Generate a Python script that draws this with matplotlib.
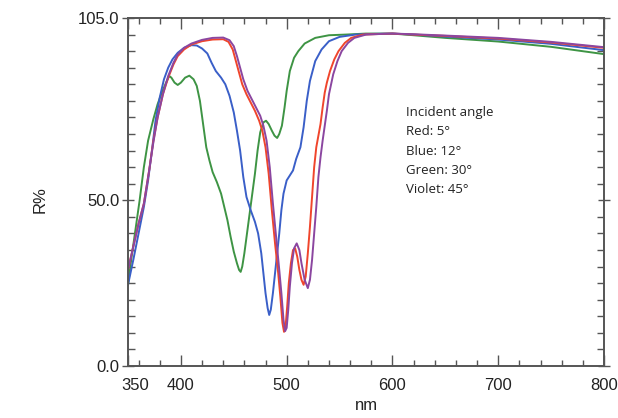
import matplotlib
matplotlib.use('Agg')
import matplotlib.pyplot as plt
import matplotlib.transforms as mtransforms
from matplotlib.ticker import MultipleLocator

# wavelength (nm) / reflectance (%)
red_nm = [350, 355, 360, 365, 370, 374, 378, 383, 388, 393, 397, 403, 410, 420, 430, 440, 445, 449, 452, 455,
          458, 462, 466, 470, 474, 477, 480, 483, 486, 489, 492, 494, 496, 497.5, 499, 500.5, 502, 504, 506, 508,
          510, 512, 514, 516, 518, 520, 522, 524, 526, 528, 530, 532, 534, 536, 538, 541, 545, 549, 555, 561,
          572, 590, 600, 620, 650, 700, 750, 800]
red_r = [29, 36, 43, 49, 59, 68, 75, 82, 87, 91, 93.5, 95.5, 97, 98, 98.5, 98.6, 97.8, 95.5, 92, 88.5,
         85, 82, 79.5, 77, 74, 71, 66, 58, 47, 37, 28, 21, 13, 10.3, 12, 18, 25, 31, 35, 35.5,
         33, 29, 26, 24.5, 27, 34, 42, 51, 60, 66, 69.5, 73, 78, 82.5, 85.5, 89, 92.5, 95, 97.5, 99,
         100, 100.2, 100.3, 100, 99.6, 98.8, 97.6, 96]

violet_nm = [350, 355, 360, 365, 370, 374, 378, 383, 388, 393, 397, 403, 410, 420, 430, 440, 446, 450, 453, 456,
             459, 463, 467, 471, 475, 478, 481, 484, 487, 490, 493, 495, 497, 498.5, 500, 501.5, 503, 505, 507,
             509.5, 512, 514, 517, 520, 522, 524, 526, 528, 530, 532, 534, 536, 538, 540, 542, 544, 548, 552,
             558, 564, 575, 590, 600, 620, 650, 700, 750, 800]
violet_r = [29, 36, 43, 49, 59, 67.5, 75, 82, 87.5, 91.5, 94, 96, 97.3, 98.4, 99, 99.1, 98.3, 96.5, 93.5, 90,
            86.5, 83, 80.5, 78, 75.5, 72.5, 68, 60, 49, 39, 29, 22, 14, 10.5, 11.5, 17, 24, 31, 35.5,
            37, 35, 31, 26, 23.5, 26, 32, 40, 48, 57, 63, 68, 72.5, 77, 82, 85, 88, 92, 95,
            97.5, 99, 100, 100.2, 100.3, 100.1, 99.7, 99, 97.8, 96.2]

blue_nm = [350, 355, 360, 365, 369, 373, 376, 380, 384, 388, 392, 397, 403, 410, 415, 420, 425, 429, 433, 438,
           442, 446, 450, 453, 456, 459, 462, 466, 470, 473, 476, 478, 480, 482, 483.5, 485, 487, 489, 491, 493,
           495, 497, 500, 503, 506, 509, 513, 516, 519, 522, 527, 533, 540, 550, 565, 580, 600, 620,
           650, 700, 750, 800]
blue_r = [24.5, 32, 40, 48, 56, 66, 74, 81, 86.5, 90, 92.5, 94.5, 96, 96.8, 96.7, 95.8, 94.3, 91.5, 89, 87,
          85, 81.5, 76.5, 71, 65, 57, 51, 47, 43.5, 40, 34, 28, 22, 17.5, 15.4, 17, 22, 28, 34, 40,
          47, 52, 56, 57.5, 59, 62.5, 66, 72, 80, 86, 92, 95.5, 98, 99.3, 100, 100.2, 100.3, 100,
          99.4, 98.5, 97.2, 95.3]

green_nm = [350, 353, 357, 361, 365, 369, 374, 378, 382, 386, 389, 391, 394, 397, 400, 404, 408, 412, 415, 418,
            421, 424, 427, 430, 434, 438, 441, 444, 447, 450, 453, 455, 456.5, 458, 460, 462.5, 465, 467.5, 470,
            472.5, 475, 478, 480.5, 483, 486, 488.5, 491, 493, 495.5, 498, 500, 503, 507, 511, 517, 527, 540,
            556, 575, 600, 620, 650, 700, 750, 800]
green_r = [24.4, 32, 41, 50, 60, 68, 74.5, 79, 82.5, 85.5, 87.5, 87, 85.5, 84.8, 85.5, 87, 87.6, 86.5, 84.5, 80,
           73, 66, 62, 58.5, 55.5, 52, 48, 44, 39, 34.5, 31, 29, 28.4, 30, 34, 40, 46, 52, 58,
           65, 70.5, 73.5, 74, 73, 71, 69.5, 68.8, 70, 72.5, 78, 83, 89, 93, 95, 97.3, 99, 99.8,
           100, 100.3, 100.3, 99.8, 99, 97.9, 96.3, 94.1]

note_lines = ['Incident angle', 'Red: 5°', 'Blue: 12°', 'Green: 30°', 'Violet: 45°']
xtick_vals = [350, 400, 500, 600, 700, 800]
ytick_vals = [0, 50, 105]

tick_font = ['Liberation Sans Narrow', 'Liberation Sans', 'DejaVu Sans']

fig = plt.figure(figsize=(6.18, 4.18), dpi=100)
ax = fig.add_axes([128 / 618, 1 - 366 / 418, (604 - 128) / 618, (366 - 18) / 418])

ax.plot(green_nm, green_r, color='#3e9444', lw=1.4)
ax.plot(blue_nm, blue_r, color='#3a5fc8', lw=1.4)
ax.plot(red_nm, red_r, color='#f0452c', lw=1.4)
ax.plot(violet_nm, violet_r, color='#8b46a0', lw=1.4)

ax.set_xlim(350, 800)
ax.set_ylim(0, 105)
ax.set_xticks(xtick_vals)
ax.set_xticklabels([str(v) for v in xtick_vals], fontfamily=tick_font, fontsize=12, color='#222222')
ax.set_yticks(ytick_vals)
ax.set_yticklabels(['%.1f' % v for v in ytick_vals], fontfamily=tick_font, fontsize=12, color='#222222')
ax.xaxis.set_minor_locator(MultipleLocator(20))
ax.yaxis.set_minor_locator(MultipleLocator(5))

ax.tick_params(which='both', top=True, right=True, color='#555555', width=1.0)
ax.tick_params(axis='x', which='major', direction='in', length=8, pad=9)
ax.tick_params(axis='x', which='minor', direction='in', length=4)
ax.tick_params(axis='y', which='major', direction='inout', length=8, pad=2)
ax.tick_params(axis='y', which='minor', direction='in', length=5)
for s in ax.spines.values():
    s.set_color('#555555')
    s.set_linewidth(1.4)

# first x label sits a little right of its tick in the original
lab = ax.get_xticklabels()[0]
lab.set_transform(lab.get_transform() + mtransforms.ScaledTranslation(7 / 100, 0, fig.dpi_scale_trans))

ax.set_xlabel('nm', fontfamily=tick_font, fontsize=12, color='#222222', labelpad=3)
fig.text(40 / 618, 1 - 200 / 418, 'R%', rotation=90, ha='center', va='center',
         fontfamily=tick_font, fontsize=12, color='#222222')

fig.text(406 / 618, 1 - 106 / 418, '\n'.join(note_lines), ha='left', va='top',
         fontfamily='Open Sans', fontsize=9.5, color='#222222', linespacing=1.63)

fig.savefig('out.png', dpi=100)
